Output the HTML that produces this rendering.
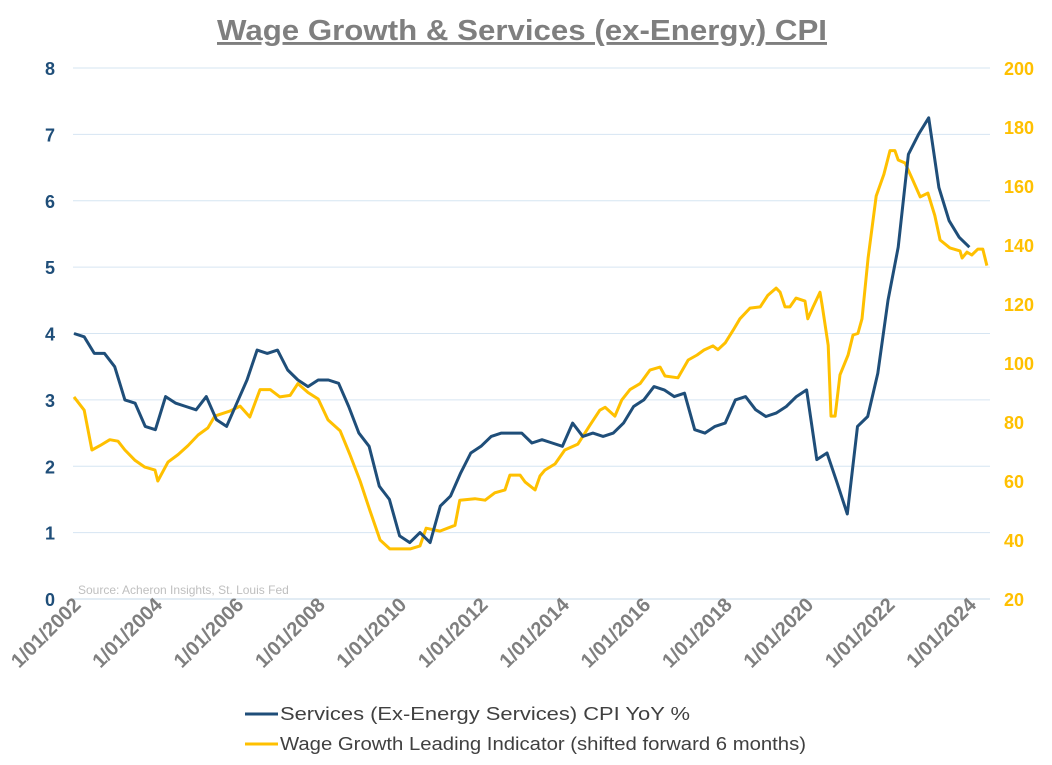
<!DOCTYPE html>
<html><head><meta charset="utf-8"><style>
body{margin:0;background:#fff;}
svg{display:block;font-family:"Liberation Sans",Arial,sans-serif;}
</style></head><body>
<svg id="chart" width="1052" height="765">
<text x="522" y="40" text-anchor="middle" font-size="29" font-weight="bold" fill="#7f7f7f" text-decoration="underline" textLength="610" lengthAdjust="spacingAndGlyphs">Wage Growth &amp; Services (ex-Energy) CPI</text>
<g id="grid"></g><g id="axes"></g><g id="series"></g>
<text x="78" y="594" font-size="12" fill="#bfbfbf">Source: Acheron Insights, St. Louis Fed</text>
<g>
<line x1="245" y1="714" x2="278" y2="714" stroke="#1f4e79" stroke-width="3"/>
<text x="280" y="720" font-size="18" fill="#404040" textLength="410" lengthAdjust="spacingAndGlyphs">Services (Ex-Energy Services) CPI YoY %</text>
<line x1="245" y1="744" x2="278" y2="744" stroke="#ffc000" stroke-width="3"/>
<text x="280" y="750" font-size="18" fill="#404040" textLength="526" lengthAdjust="spacingAndGlyphs">Wage Growth Leading Indicator (shifted forward 6 months)</text>
</g>
</svg>
<script>
const leftTicks=[0,1,2,3,4,5,6,7,8];
const rightTicks=[20,40,60,80,100,120,140,160,180,200];
const xTickYears=[2002,2004,2006,2008,2010,2012,2014,2016,2018,2020,2022,2024];
const cpiVals=[4.0,3.95,3.7,3.7,3.5,3.0,2.95,2.6,2.55,3.05,2.95,2.9,2.85,3.05,2.7,2.6,2.95,3.3,3.75,3.7,3.75,3.45,3.3,3.2,3.3,3.3,3.25,2.9,2.5,2.3,1.7,1.5,0.95,0.85,1.0,0.85,1.4,1.55,1.9,2.2,2.3,2.45,2.5,2.5,2.5,2.35,2.4,2.35,2.3,2.65,2.45,2.5,2.45,2.5,2.65,2.9,3.0,3.2,3.15,3.05,3.1,2.55,2.5,2.6,2.65,3.0,3.05,2.85,2.75,2.8,2.9,3.05,3.15,2.1,2.2,1.75,1.28,2.6,2.75,3.4,4.5,5.3,6.7,7.0,7.25,6.2,5.7,5.45,5.3];
const wageYears=[2002,2002.25,2002.44,2002.64,2002.88,2003.08,2003.25,2003.5,2003.74,2003.99,2004.06,2004.31,2004.56,2004.8,2005.05,2005.29,2005.46,2005.83,2006.08,2006.32,2006.57,2006.82,2007.06,2007.31,2007.5,2007.75,2008,2008.24,2008.54,2008.78,2009.03,2009.27,2009.52,2009.76,2010.01,2010.26,2010.5,2010.65,2010.99,2011.36,2011.48,2011.85,2012.1,2012.34,2012.59,2012.71,2012.96,2013.08,2013.33,2013.45,2013.57,2013.82,2014.06,2014.38,2014.68,2014.92,2015.05,2015.29,2015.46,2015.66,2015.91,2016.15,2016.4,2016.52,2016.84,2017.09,2017.31,2017.48,2017.7,2017.82,2018,2018.19,2018.36,2018.61,2018.86,2019.05,2019.25,2019.35,2019.47,2019.59,2019.74,2019.96,2020.03,2020.16,2020.33,2020.38,2020.53,2020.6,2020.7,2020.82,2021.02,2021.14,2021.26,2021.36,2021.51,2021.71,2021.9,2022.05,2022.17,2022.25,2022.42,2022.61,2022.79,2022.98,2023.15,2023.28,2023.52,2023.77,2023.82,2023.94,2024.06,2024.21,2024.33,2024.43];
const wageVals=[88.5,84,70.5,72,74,73.5,70.5,67,64.7,63.7,60,66.4,69,72,75.6,78,82,83.7,85.4,81.7,91,91,88.5,89,93,90,87.8,80.7,77,69,60,50,40,37,37,37,38,44,43,45,53.5,54,53.5,56,57,62,62,59.7,57,61.7,63.7,65.8,70.5,72.5,79,84,85,82,87.5,91,93,97.6,98.6,95.6,95,101,102.7,104.4,105.8,104.5,106.8,111,115,118.6,119,123,125.4,124,119,119,122,121,115,119,124,119.7,106,82,82,96,102.7,109.5,110,115,135.6,156.6,164,172,172,168.8,167.8,162,156.3,157.6,150,141.7,139,138,135.6,137.6,136.6,138.6,138.6,133];
const cpiYears=cpiVals.map((v,i)=>2002+i*0.25);
const NS="http://www.w3.org/2000/svg";
const X0=74,PX=40.7,YB=599,YT=68;
const xS=y=>X0+(y-2002)*PX;
const yL=v=>YB-(v/8)*(YB-YT);
const yR=v=>YB-((v-20)/180)*(YB-YT);
function mk(tag,attrs,parent,txt){const e=document.createElementNS(NS,tag);for(const k in attrs)e.setAttribute(k,attrs[k]);if(txt!==undefined)e.textContent=txt;parent.appendChild(e);return e;}
const grid=document.getElementById('grid'),axes=document.getElementById('axes'),ser=document.getElementById('series');
leftTicks.forEach(t=>{
 const l=mk('line',{x1:73,x2:990,y1:yL(t),y2:yL(t),stroke:t===0?'#c5d9ea':'#d6e5f2','stroke-width':1},grid);
 
 
 const tx=mk('text',{x:55,y:yL(t)+7,'text-anchor':'end','font-size':18,'font-weight':'bold',fill:'#1f4e79'},axes,t);
 
 
});
rightTicks.forEach(t=>{
 const tx=mk('text',{x:1004,y:yR(t)+7,'font-size':18,'font-weight':'bold',fill:'#ffc000'},axes,t);
 
 
});
xTickYears.forEach(y=>{
 const x=xS(y)+8,yy=606;
 const tx=mk('text',{x:x,y:yy,'text-anchor':'end','font-size':20,'font-weight':'bold',fill:'#7f7f7f',transform:`rotate(-45 ${x} ${yy})`},axes,'1/01/'+y);
 
 
});
function line(ys,vs,sc,col,name){
 const d=ys.map((y,i)=>(i?'L':'M')+xS(y).toFixed(1)+','+sc(vs[i]).toFixed(1)).join('');
 const p=mk('path',{d:d,fill:'none',stroke:col,'stroke-width':3,'stroke-linejoin':'round'},ser);
 
 
}
line(wageYears,wageVals,yR,'#ffc000','wage-growth-line');
line(cpiYears,cpiVals,yL,'#1f4e79','services-cpi-line');
</script>
</body></html>
